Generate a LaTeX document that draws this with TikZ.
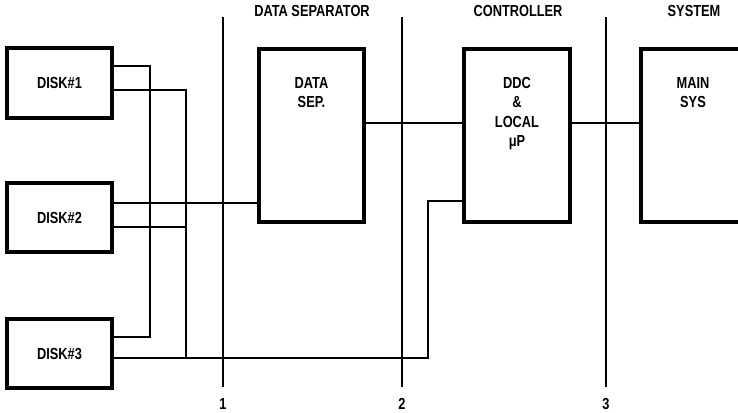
\documentclass[tikz,border=0pt]{standalone}
\usepackage{fontspec}
\newfontfamily\lblfont[FakeStretch=0.8]{Liberation Sans}
\begin{document}
\begin{tikzpicture}[x=1pt,y=-1pt,
  lbl/.style={font=\lblfont\bfseries\fontsize{16}{19.5}\selectfont, align=center, inner sep=0pt},
  box/.style={draw, line width=3.2pt, inner sep=0pt, outer sep=0pt, lbl},
  wire/.style={line width=2.2pt},
  divider/.style={line width=2.4pt}]
\useasboundingbox (0,0) rectangle (738,412);

% headers
\node[lbl] (h1) at (312,11) {DATA SEPARATOR};
\node[lbl] (h2) at (518,11) {CONTROLLER};
\node[lbl] (h3) at (694,11) {SYSTEM};

% dividers
\draw[divider] (223,17) -- (223,387) node[lbl, below=10pt] (n1) {1};
\draw[divider] (402,17) -- (402,387) node[lbl, below=10pt] (n2) {2};
\draw[divider] (606,17) -- (606,387) node[lbl, below=10pt] (n3) {3};

% disks
\node[box, minimum width=105pt, minimum height=70pt] (d1) at (59.5,83) {DISK\#1};
\node[box, minimum width=105pt, minimum height=69pt] (d2) at (59.5,217.5) {DISK\#2};
\node[box, minimum width=105pt, minimum height=69pt] (d3) at (59.5,353.5) {DISK\#3};

% big boxes
\node[box, minimum width=105pt, minimum height=173pt] (dsep) at (311.5,135.5) {};
\node[box, minimum width=106pt, minimum height=173pt] (ctrl) at (517,135.5) {};
\node[box, minimum width=160pt, minimum height=173pt] (main) at (721,135.5) {};

\node[lbl, anchor=north] (tsep) at ([yshift=-28pt]dsep.north) {DATA\\SEP.};
\node[lbl, anchor=north] (tctrl) at ([yshift=-28pt]ctrl.north) {DDC\\\&\\LOCAL\\μP};
\node[lbl, anchor=north] (tmain) at ([xshift=52pt,yshift=-28pt]main.north west) {MAIN\\SYS};

% connection points
\coordinate (a1) at ([yshift=-18pt]d1.north east);
\coordinate (a2) at ([yshift=-42pt]d1.north east);
\coordinate (a3) at ([yshift=-20pt]d2.north east);
\coordinate (a4) at ([yshift=-44pt]d2.north east);
\coordinate (a5) at ([yshift=-18pt]d3.north east);
\coordinate (a6) at ([yshift=-39pt]d3.north east);
\coordinate (busA) at (150,0);
\coordinate (busB) at (186,0);
\coordinate (rise) at (428,0);
\coordinate (c1) at ([yshift=-152pt]ctrl.north west);
\coordinate (s1) at ([yshift=-74pt]dsep.north east);

% connectors
\draw[wire] (a1) -| (busA |- a5) -- (a5);
\draw[wire] (a2) -| (busB |- a6);
\draw[wire] (a3) -- (dsep.west |- a3);
\draw[wire] (a4) -- (busB |- a4);
\draw[wire] (a6) -| (rise |- c1) -- (c1);
\draw[wire] (s1) -- (ctrl.west |- s1);
\draw[wire] (ctrl.east |- s1) -- (main.west |- s1);
\end{tikzpicture}
\end{document}
